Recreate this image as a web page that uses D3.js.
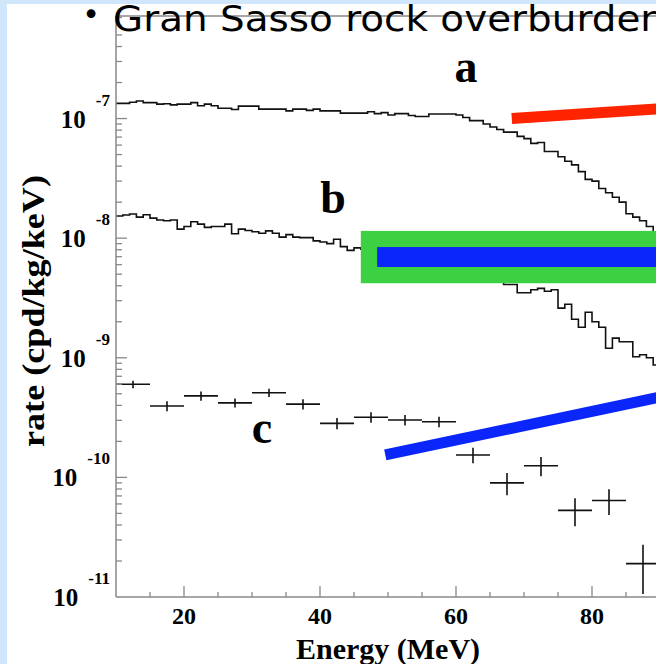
<!DOCTYPE html>
<html>
<head>
<meta charset="utf-8">
<script src="https://cdn.jsdelivr.net/npm/d3@7"></script>
<style>
  html, body { margin: 0; padding: 0; background: #cfe6fb; }
  svg { display: block; }
</style>
</head>
<body>
<svg></svg>
<script>
var width = 656;
var height = 664;

// 1 MeV bins starting at 10 MeV; rates in units of 1e-7 (a) and 1e-8 (b) cpd/kg/keV
var binStart = 10;
var binWidth = 1;
var rateA = [1.34,1.34,1.37,1.40,1.36,1.36,1.32,1.33,1.30,1.32,
             1.32,1.36,1.28,1.32,1.28,1.22,1.22,1.19,1.27,1.27,
             1.27,1.20,1.20,1.20,1.20,1.16,1.20,1.20,1.17,1.20,
             1.16,1.16,1.16,1.11,1.11,1.11,1.11,1.14,1.10,1.12,
             1.07,1.10,1.10,1.06,1.04,1.04,1.09,1.09,1.09,1.09,
             1.07,1.02,0.96,0.96,0.90,0.85,0.81,0.77,0.77,0.71,
             0.68,0.62,0.63,0.53,0.53,0.48,0.44,0.41,0.36,0.31,
             0.30,0.26,0.24,0.22,0.20,0.16,0.15,0.14,0.125,0.113];
var rateB = [1.53,1.56,1.59,1.50,1.57,1.47,1.42,1.40,1.42,1.19,
             1.25,1.37,1.31,1.23,1.25,1.25,1.31,1.09,1.19,1.16,
             1.13,1.10,1.15,1.10,1.02,1.07,1.02,1.01,1.01,0.95,
             0.93,0.90,0.98,0.85,0.79,0.83,0.81,0.77,0.80,0.74,
             0.71,0.72,0.67,0.68,0.63,0.62,0.59,0.60,0.55,0.54,
             0.52,0.50,0.49,0.47,0.47,0.45,0.43,0.41,0.41,0.35,
             0.35,0.37,0.38,0.36,0.37,0.26,0.28,0.21,0.18,0.24,
             0.20,0.18,0.12,0.146,0.136,0.136,0.102,0.106,0.10,0.087];

// measured points c, 5 MeV bins, rates in units of 1e-10
var cCenter = [12.5,17.5,22.5,27.5,32.5,37.5,42.5,47.5,52.5,57.5,62.5,67.5,72.5,77.5,82.5,87.5];
var cRate   = [6.0,3.95,4.8,4.2,5.1,4.1,2.83,3.18,3.02,2.92,1.54,0.90,1.25,0.53,0.64,0.19];
var cErr    = [0.44,0.38,0.42,0.36,0.4,0.4,0.3,0.32,0.3,0.3,0.23,0.19,0.23,0.14,0.155,0.084];

// overlay annotations (energy, rate)
var redLine = [[68.2, 1.0e-7], [95, 1.26e-7]];
var blueLine = [[49.6, 1.54e-10], [95, 5.4e-10]];
var greenBand = {e0: 46.0, e1: 100, top: 1.15e-8, bottom: 4.2e-9};
var blueBand = {e0: 48.4, e1: 100, top: 8.43e-9, bottom: 5.74e-9};

var xTicks = [15,20,25,30,35,40,45,50,55,60,65,70,75,80,85];
var xLabels = [20,40,60,80];
var yDecades = [-11,-10,-9,-8,-7];

var margins = {left: 116, top: 16, bottom: 67};

var svg = d3.select("svg")
            .attr("width", width)
            .attr("height", height);

svg.append("rect")
    .attr("x", 7).attr("y", 4)
    .attr("width", width).attr("height", height)
    .attr("fill", "#fff");

var xscale = d3.scaleLinear()
               .domain([10, 100])
               .range([margins.left, margins.left + 90*6.8]);

var yscale = d3.scaleLog()
               .domain([1e-11, 7.2e-7])
               .range([height - margins.bottom, margins.top]);

var axisColor = "#888";
var x0 = xscale(10), yb = yscale(1e-11), yt = yscale(7.2e-7);

// frame top line
svg.append("line")
    .attr("x1", x0).attr("x2", width).attr("y1", yt).attr("y2", yt)
    .attr("stroke", axisColor).attr("stroke-width", 1.5);

// histograms
function histPoints(vals, unit) {
    var pts = vals.map(function(v, i){ return [binStart + i*binWidth, v*unit]; });
    pts.push([binStart + vals.length*binWidth, vals[vals.length-1]*unit]);
    return pts;
}
var stepLine = d3.line()
    .x(function(d){ return xscale(d[0]); })
    .y(function(d){ return yscale(d[1]); })
    .curve(d3.curveStepAfter);

svg.append("path")
    .attr("d", stepLine(histPoints(rateA, 1e-7)))
    .attr("fill", "none").attr("stroke", "#111").attr("stroke-width", 1.6);
svg.append("path")
    .attr("d", stepLine(histPoints(rateB, 1e-8)))
    .attr("fill", "none").attr("stroke", "#111").attr("stroke-width", 1.6);

// data points c with error crosses
var cross = svg.append("g").attr("stroke", "#111").attr("stroke-width", 1.6);
cCenter.forEach(function(c, i){
    var v = cRate[i]*1e-10, e = cErr[i]*1e-10;
    cross.append("line")
        .attr("x1", xscale(c-2.5)).attr("x2", xscale(c+2.5))
        .attr("y1", yscale(v)).attr("y2", yscale(v));
    cross.append("line")
        .attr("x1", xscale(c)).attr("x2", xscale(c))
        .attr("y1", yscale(v-e)).attr("y2", yscale(v+e));
});

// overlays
svg.append("rect")
    .attr("x", xscale(greenBand.e0)).attr("y", yscale(greenBand.top))
    .attr("width", xscale(greenBand.e1) - xscale(greenBand.e0))
    .attr("height", yscale(greenBand.bottom) - yscale(greenBand.top))
    .attr("fill", "#3bd143");
svg.append("rect")
    .attr("x", xscale(blueBand.e0)).attr("y", yscale(blueBand.top))
    .attr("width", xscale(blueBand.e1) - xscale(blueBand.e0))
    .attr("height", yscale(blueBand.bottom) - yscale(blueBand.top))
    .attr("fill", "#0b26fa");

var straight = d3.line()
    .x(function(d){ return xscale(d[0]); })
    .y(function(d){ return yscale(d[1]); });
svg.append("path").attr("d", straight(redLine))
    .attr("stroke", "#ff2400").attr("stroke-width", 11).attr("fill", "none");
svg.append("path").attr("d", straight(blueLine))
    .attr("stroke", "#0b26fa").attr("stroke-width", 11).attr("fill", "none");

// curve letters
var letterFont = "'Liberation Serif', 'Times New Roman', serif";
[["a", 466, 82], ["b", 333, 213], ["c", 262, 443]].forEach(function(l){
    svg.append("text").text(l[0])
        .attr("x", l[1]).attr("y", l[2])
        .attr("text-anchor", "middle")
        .attr("font-family", letterFont).attr("font-weight", "bold")
        .attr("font-size", 46).attr("fill", "#000");
});

// axes
svg.append("line")
    .attr("x1", x0).attr("x2", x0).attr("y1", yt).attr("y2", yb)
    .attr("stroke", axisColor).attr("stroke-width", 1.5);
svg.append("line")
    .attr("x1", x0).attr("x2", width).attr("y1", yb).attr("y2", yb)
    .attr("stroke", axisColor).attr("stroke-width", 1.5);

var tickG = svg.append("g").attr("stroke", axisColor).attr("stroke-width", 1.3);
yscale.ticks().filter(function(t){ return t <= 7.2e-7 && t > 1e-11; }).forEach(function(t){
    var major = Math.abs(Math.log10(t) - Math.round(Math.log10(t))) < 1e-6;
    tickG.append("line")
        .attr("x1", x0).attr("x2", x0 + (major ? 11 : 6))
        .attr("y1", yscale(t)).attr("y2", yscale(t));
});
xTicks.forEach(function(t){
    var major = xLabels.indexOf(t) >= 0;
    tickG.append("line")
        .attr("x1", xscale(t)).attr("x2", xscale(t))
        .attr("y1", yb).attr("y2", yb - (major ? 11 : 5));
});

xLabels.forEach(function(t){
    svg.append("text").text(t)
        .attr("x", xscale(t)).attr("y", yb + 27)
        .attr("text-anchor", "middle")
        .attr("font-family", letterFont).attr("font-weight", "bold")
        .attr("font-size", 24);
});

yDecades.forEach(function(d){
    var yy = yscale(Math.pow(10, d));
    var ex = svg.append("text").text("-" + Math.abs(d))
        .attr("x", 110).attr("y", yy - 13)
        .attr("text-anchor", "end")
        .attr("font-family", letterFont).attr("font-weight", "bold")
        .attr("font-size", 17);
    var w = ex.node().getComputedTextLength();
    svg.append("text").text("10")
        .attr("x", 110 - w - 10).attr("y", yy + 9)
        .attr("text-anchor", "end")
        .attr("font-family", letterFont).attr("font-weight", "bold")
        .attr("font-size", 25);
});

svg.append("text").text("Energy (MeV)")
    .attr("x", 388).attr("y", 659)
    .attr("text-anchor", "middle")
    .attr("font-family", letterFont).attr("font-weight", "bold")
    .attr("font-size", 30);

svg.append("text").text("rate (cpd/kg/keV)")
    .attr("transform", "translate(44,311) rotate(-90)")
    .attr("text-anchor", "middle")
    .attr("textLength", 272).attr("lengthAdjust", "spacingAndGlyphs")
    .attr("font-family", letterFont).attr("font-weight", "bold")
    .attr("font-size", 31);

// slide title, cut by the window edge
svg.append("text").text("•")
    .attr("x", 91).attr("y", 25)
    .attr("text-anchor", "middle")
    .attr("font-family", "'Comic Sans MS', 'DejaVu Sans', sans-serif")
    .attr("font-size", 30);
svg.append("text").text("Gran Sasso rock overburden")
    .attr("x", 113).attr("y", 31)
    .attr("textLength", 552).attr("lengthAdjust", "spacingAndGlyphs")
    .attr("font-family", "'Comic Sans MS', 'DejaVu Sans', sans-serif")
    .attr("font-size", 36);
</script>
</body>
</html>
